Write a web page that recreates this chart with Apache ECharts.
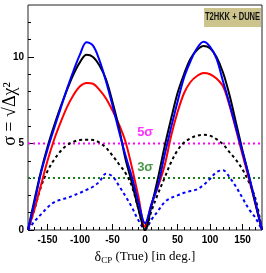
<!DOCTYPE html>
<html><head><meta charset="utf-8">
<script src="https://cdn.jsdelivr.net/npm/echarts@6/dist/echarts.min.js"></script>
<style>html,body{margin:0;padding:0;background:#fff}#c{width:266px;height:273px}</style>
</head><body><div id="c"></div>
<script>
const deltaCP = [-180,-170,-160,-150,-140,-130,-120,-110,-100,-90,-80,-70,-60,-50,-40,-30,-20,-10,0,10,20,30,40,50,60,70,80,90,100,110,120,130,140,150,160,170,180];
const blackSolid = [0,1.75,3.4,4.8,6.0,7.1,8.1,9.0,9.7,10.13,10.0,9.5,8.7,7.4,5.9,4.1,2.7,1.2,0,1.4,3.0,4.8,6.4,7.9,9.0,9.9,10.4,10.63,10.5,10.0,9.1,7.8,6.2,4.6,3.1,1.5,0];
const blueSolid = [0,1.6,3.3,4.65,5.85,7.0,8.15,9.2,10.15,10.85,10.65,9.8,8.6,7.2,5.7,4.3,3.05,1.6,0.39,1.5,2.6,4.3,5.9,7.4,8.8,9.75,10.5,10.88,10.6,9.9,8.6,7.3,5.9,4.5,3.1,1.6,0];
const redSolid = [0,1.2,2.6,4.0,5.2,6.2,7.1,7.8,8.3,8.5,8.45,8.1,7.6,6.9,6.1,5.1,3.6,1.9,0.2,1.5,2.5,3.7,5.4,6.8,7.9,8.55,8.9,9.07,9.0,8.75,8.3,7.2,5.8,4.35,2.95,1.5,0];
const blackDashed = [0,1.2,2.5,3.4,4.05,4.55,4.9,5.1,5.2,5.22,5.2,5.05,4.75,4.3,3.8,3.3,2.5,1.2,0,1.1,2.1,3.0,3.9,4.6,5.05,5.3,5.45,5.5,5.45,5.25,4.95,4.5,4.05,3.5,2.75,1.8,0];
const blueDashed = [0,0.5,0.9,1.3,1.6,1.75,1.85,2.0,2.15,2.32,2.5,2.8,3.25,3.1,2.55,1.95,1.3,0.55,0.05,0.6,1.1,1.6,1.85,2.0,2.15,2.25,2.35,2.6,2.95,3.35,3.45,3.05,2.5,1.85,1.2,0.7,0];
const xMajorTicks = [-150,-100,-50,0,50,100,150];
const xMinorTicks = [-170,-160,-140,-130,-120,-110,-90,-80,-70,-60,-40,-30,-20,-10,10,20,30,40,60,70,80,90,110,120,130,140,160,170];
const yMajorTicks = [0,5,10];
const yMinorTicks = [1,2,3,4,6,7,8,9,11,12];
const sigmaLevels = [5,3];
const sigmaLabels = ['5σ','3σ'];
const sigmaColors = ['#ff00ff','#1a7f1a'];

const chart = echarts.init(document.getElementById('c'));
const pairs = ys => deltaCP.map((x,i)=>[x, ys[i]]);
const tickFont = {fontFamily:'"Liberation Sans",Arial,sans-serif', fontWeight:'bold', fontSize:10, color:'#000'};
function lineSeries(ys, color, type){
  return {type:'line', data:pairs(ys), showSymbol:false, smooth:0.35, silent:true,
    lineStyle:{color:color, width:2, type:type}, z:3};
}
function levelSeries(v, color){
  return {type:'line', data:[[-180,v],[180,v]], showSymbol:false, silent:true,
    lineStyle:{color:color, width:2, type:[2,3]}, z:2};
}
const series = [
  levelSeries(sigmaLevels[0], sigmaColors[0]),
  levelSeries(sigmaLevels[1], sigmaColors[1]),
  lineSeries(blueDashed, '#0000ff', [3,3]),
  lineSeries(blackDashed, '#000000', [3,3]),
  lineSeries(redSolid, '#ff0000', 'solid'),
  lineSeries(blackSolid, '#000000', 'solid'),
  lineSeries(blueSolid, '#0000ff', 'solid'),
  {type:'scatter', symbolSize:1, itemStyle:{color:'transparent'}, silent:true, z:5,
   data: sigmaLevels.map((v,i)=>({value:[0.3, v+0.62], label:{color:sigmaColors[i]}})),
   label:{show:true, position:'inside', fontSize:13, fontWeight:'bold', fontFamily:'"Liberation Sans",Arial,sans-serif',
     formatter: p => sigmaLabels[p.dataIndex]}}
];

chart.setOption({
  animation:false,
  grid:{left:28, right:4, top:5, bottom:43, show:true, borderColor:'#222', borderWidth:1, backgroundColor:'transparent'},
  xAxis:[
    {type:'value', min:-180, max:180, position:'bottom',
     axisLine:{show:false, onZero:false}, splitLine:{show:false},
     axisTick:{show:true, inside:true, length:6, customValues:xMajorTicks, lineStyle:{color:'#000'}},
     axisLabel:Object.assign({show:true, margin:5, customValues:xMajorTicks}, tickFont),
     name:'{d|δ}{s|CP}{t| (True) [in deg.]}', nameLocation:'middle', nameGap:16,
     nameTextStyle:{rich:{
       d:{fontFamily:'"Liberation Serif","Times New Roman",serif', fontSize:14, color:'#000'},
       s:{fontFamily:'"Liberation Serif","Times New Roman",serif', fontSize:9, color:'#000', verticalAlign:'bottom', padding:[8,0,0,0]},
       t:{fontFamily:'"Liberation Serif","Times New Roman",serif', fontSize:13, color:'#000'}
     }}},
    {type:'value', min:-180, max:180, position:'bottom',
     axisLine:{show:false, onZero:false}, splitLine:{show:false}, axisLabel:{show:false},
     axisTick:{show:true, inside:true, length:3, customValues:xMinorTicks, lineStyle:{color:'#000'}}}
  ],
  yAxis:[
    {type:'value', min:0, max:13, position:'left',
     axisLine:{show:false, onZero:false}, splitLine:{show:false},
     axisTick:{show:true, inside:true, length:6, customValues:yMajorTicks, lineStyle:{color:'#000'}},
     axisLabel:Object.assign({show:true, margin:4, customValues:yMajorTicks}, tickFont)},
    {type:'value', min:0, max:13, position:'left',
     axisLine:{show:false, onZero:false}, splitLine:{show:false}, axisLabel:{show:false},
     axisTick:{show:true, inside:true, length:3, customValues:yMinorTicks, lineStyle:{color:'#000'}}}
  ],
  series: series,
  graphic:[
    {type:'text', x:10, y:114, rotation:Math.PI/2,
     style:{text:'σ = √Δχ²', fontFamily:'"Liberation Serif","Times New Roman",serif', fontSize:18, fill:'#000', align:'center', verticalAlign:'middle'}},
    {type:'rect', shape:{x:204, y:8, width:57, height:19}, style:{fill:'#CCC48C'}, z:10},
    {type:'text', x:232.5, y:17.5, z:11, scaleX:0.72,
     style:{text:'T2HKK + DUNE', fontFamily:'"Liberation Sans",Arial,sans-serif', fontWeight:'bold', fontSize:10.5, fill:'#111', align:'center', verticalAlign:'middle'}}
  ]
});
</script></body></html>
